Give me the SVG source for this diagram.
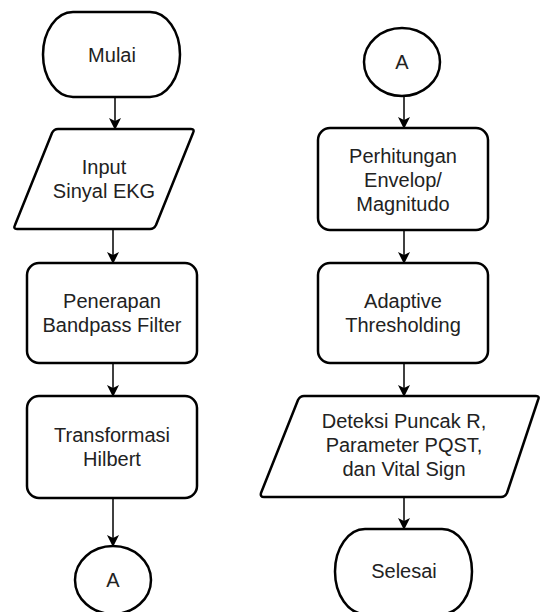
<svg xmlns="http://www.w3.org/2000/svg" width="542" height="612" viewBox="0 0 542 612">
<defs>
<marker id="ah" markerWidth="12" markerHeight="12" viewBox="0 0 12 12" refX="11" refY="6" orient="auto" markerUnits="userSpaceOnUse">
<path d="M0,0 L12,6 L0,12 L3,6 Z" fill="#000"/>
</marker>
<style>
.s{fill:#fff;stroke:#000;stroke-width:2.5;stroke-linejoin:round}
.t{font-family:"Liberation Sans",Arial,sans-serif;font-size:20px;fill:#222;text-anchor:middle}
.c{stroke:#000;stroke-width:1.5;fill:none;marker-end:url(#ah)}
</style>
</defs>
<rect width="542" height="612" fill="#fff"/>
<g id="connectors">
<line class="c" x1="115" y1="97" x2="115" y2="129"/>
<line class="c" x1="113" y1="229" x2="113" y2="263"/>
<line class="c" x1="113" y1="363" x2="113" y2="396"/>
<line class="c" x1="113" y1="498" x2="113" y2="546"/>
<line class="c" x1="404" y1="97" x2="404" y2="128"/>
<line class="c" x1="404" y1="230" x2="404" y2="263"/>
<line class="c" x1="404" y1="363" x2="404" y2="396"/>
<line class="c" x1="404" y1="497" x2="404" y2="529"/>
</g>
<g id="mulai">
<rect class="s" x="43" y="12" width="137" height="85" rx="30" ry="42.5"/>
<text class="t" x="112" y="62">Mulai</text>
</g>
<g id="input">
<path class="s" d="M58,129 L191,129 Q195,129 193,133 L156,225 Q154,229 150,229 L17,229 Q13,229 15,225 L52,133 Q54,129 58,129 Z"/>
<text class="t" x="104" y="174">Input</text>
<text class="t" x="104" y="198">Sinyal EKG</text>
</g>
<g id="penerapan">
<rect class="s" x="27" y="263" width="170" height="100" rx="12"/>
<text class="t" x="112" y="308">Penerapan</text>
<text class="t" x="112" y="332">Bandpass Filter</text>
</g>
<g id="transformasi">
<rect class="s" x="27" y="396" width="170" height="102" rx="12"/>
<text class="t" x="112" y="442">Transformasi</text>
<text class="t" x="112" y="466">Hilbert</text>
</g>
<g id="a-left">
<ellipse class="s" cx="113" cy="580" rx="38" ry="34"/>
<text class="t" x="113" y="587">A</text>
</g>
<g id="a-right">
<ellipse class="s" cx="402" cy="62" rx="38" ry="34"/>
<text class="t" x="402" y="69">A</text>
</g>
<g id="perhitungan">
<rect class="s" x="318" y="128" width="170" height="102" rx="12"/>
<text class="t" x="403" y="163">Perhitungan</text>
<text class="t" x="403" y="187">Envelop/</text>
<text class="t" x="403" y="211">Magnitudo</text>
</g>
<g id="adaptive">
<rect class="s" x="318" y="263" width="170" height="100" rx="12"/>
<text class="t" x="403" y="308">Adaptive</text>
<text class="t" x="403" y="332">Thresholding</text>
</g>
<g id="deteksi">
<path class="s" d="M304,396 L536,396 Q540,396 538,400 L507,493 Q505,497 501,497 L264,497 Q260,497 261,493 L298,400 Q300,396 304,396 Z"/>
<text class="t" x="404" y="428">Deteksi Puncak R,</text>
<text class="t" x="404" y="452">Parameter PQST,</text>
<text class="t" x="404" y="476">dan Vital Sign</text>
</g>
<g id="selesai">
<rect class="s" x="335" y="529" width="137" height="85" rx="30" ry="42.5"/>
<text class="t" x="404" y="578">Selesai</text>
</g>
</svg>
